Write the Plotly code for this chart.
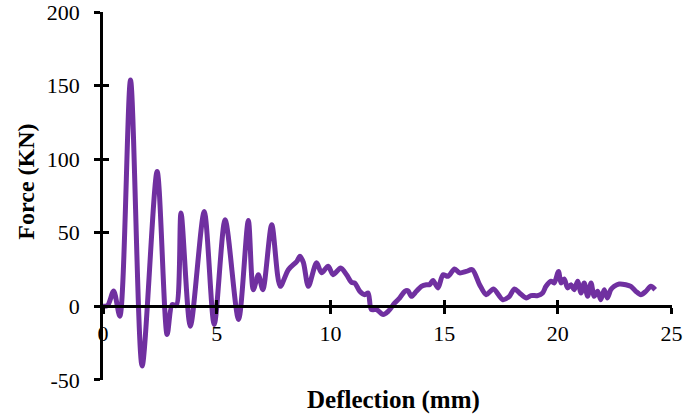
import plotly.graph_objects as go

# Force-deflection curve
deflection_mm = [
    0.0, 0.2, 0.47, 0.74, 1.21, 1.72, 2.38, 2.82, 3.04, 3.22,
    3.43, 3.84, 4.45, 4.89, 5.37, 5.96, 6.39, 6.61, 6.83, 7.03,
    7.42, 7.79, 8.15, 8.52, 8.66, 8.81, 9.03, 9.39, 9.61, 9.9,
    10.12, 10.45, 10.71, 10.93, 11.07, 11.29, 11.51, 11.66, 11.8, 12.03,
    12.32, 12.54, 12.83, 13.05, 13.27, 13.41, 13.56, 13.78, 14.0, 14.22,
    14.36, 14.51, 14.73, 14.95, 15.17, 15.46, 15.68, 15.97, 16.24, 16.56,
    16.85, 17.17, 17.58, 17.87, 18.09, 18.31, 18.61, 18.82, 19.11, 19.33,
    19.48, 19.7, 19.84, 20.03, 20.14, 20.28, 20.43, 20.58, 20.72, 20.87,
    21.02, 21.16, 21.31, 21.46, 21.6, 21.75, 21.89, 22.04, 22.18, 22.33,
    22.48, 22.7, 22.99, 23.21, 23.43, 23.65, 23.87, 24.09, 24.28,
]
force_kn = [
    0, 0.5, 10.4, -6.8, 153.8, -40.5, 91.6, -19.2, 1.2, 0.5,
    63.4, -13.6, 64.4, -12.4, 58.8, -9, 58.3, 11.3, 21.5, 11.3,
    55.4, 13.6, 24.9, 30.5, 34, 29.8, 13.6, 29.6, 22.8, 27.3,
    21.5, 26, 21.5, 16.3, 15.9, 10.2, 7.9, 9.1, -2.2, -2.2,
    -5.6, -3.4, 2.3, 5.7, 10.2, 10.6, 6.8, 10.2, 13.6, 14.7,
    14.7, 17.6, 12.5, 21.5, 20.4, 25.4, 22.7, 23.7, 24.9, 14.7,
    7.9, 11.8, 4.5, 6.8, 11.8, 9.1, 5.7, 7.3, 7.3, 9.1,
    13.6, 17, 15.9, 23.7, 15.9, 18.6, 12.5, 14.7, 11.3, 17,
    9.1, 15.9, 6.8, 15.9, 6.8, 10.2, 4.5, 11.3, 5.7, 11.3,
    13.6, 15.2, 14.7, 13.6, 10.2, 7.9, 10.2, 13.6, 11.3,
]

x_ticks = [0, 5, 10, 15, 20, 25]
y_ticks = [-50, 0, 50, 100, 150, 200]
y_tick_text = ["-50", "0", "50", "100", "150", "200"]

FONT = "Liberation Serif"
X_RANGE = [0, 25.02]
Y_RANGE = [-50.1, 200.1]
# x axis sits on the zero line
x_pos = (0 - Y_RANGE[0]) / (Y_RANGE[1] - Y_RANGE[0])

fig = go.Figure()

fig.add_trace(go.Scatter(
    x=deflection_mm,
    y=force_kn,
    mode="lines",
    line=dict(color="#7030A0", width=5, shape="spline", smoothing=0.8),
    showlegend=False,
))

# empty trace so the overlay axes (inner half of the crossing ticks) get drawn
fig.add_trace(go.Scatter(x=[None], y=[None], xaxis="x2", yaxis="y2",
                         showlegend=False, hoverinfo="skip"))

axis_common = dict(showgrid=False, zeroline=False, tickcolor="black",
                   tickwidth=2.5, ticklen=6, automargin=False)

fig.update_layout(
    width=685,
    height=416,
    margin=dict(l=102.5, r=12.7, t=11.7, b=36),
    plot_bgcolor="white",
    paper_bgcolor="white",
    font=dict(family=FONT, size=22, color="black"),
    xaxis=dict(
        range=X_RANGE, tickvals=x_ticks, ticks="outside",
        showline=True, linecolor="black", linewidth=2.5,
        anchor="free", position=x_pos, ticklabelstandoff=1,
        ticklabeloverflow="allow",
        **axis_common,
    ),
    xaxis2=dict(
        range=X_RANGE, tickvals=x_ticks, ticks="inside",
        showticklabels=False, showline=False,
        overlaying="x", anchor="free", position=x_pos,
        **axis_common,
    ),
    yaxis=dict(
        range=Y_RANGE, tickvals=y_ticks, ticktext=y_tick_text,
        ticks="outside", showline=True, linecolor="black", linewidth=2.5,
        ticklabelstandoff=10, ticklabeloverflow="allow",
        **axis_common,
    ),
    yaxis2=dict(
        range=Y_RANGE, tickvals=y_ticks, ticks="inside",
        showticklabels=False, showline=False,
        overlaying="y", anchor="x",
        **axis_common,
    ),
    annotations=[
        dict(text="<b>Deflection (mm)</b>", x=0.51, y=-0.054, xref="paper",
             yref="paper", showarrow=False, xanchor="center", yanchor="middle",
             font=dict(family=FONT, size=25)),
        dict(text="<b>Force (KN)</b>", x=-0.136, y=0.538, xref="paper",
             yref="paper", showarrow=False, textangle=-90,
             xanchor="center", yanchor="middle",
             font=dict(family=FONT, size=24)),
    ],
)

# drop the browser's default 8px body margin so the figure fills the window
fig.write_html("out.html", config={"displayModeBar": False},
               post_script="document.body.style.margin = '0';")
